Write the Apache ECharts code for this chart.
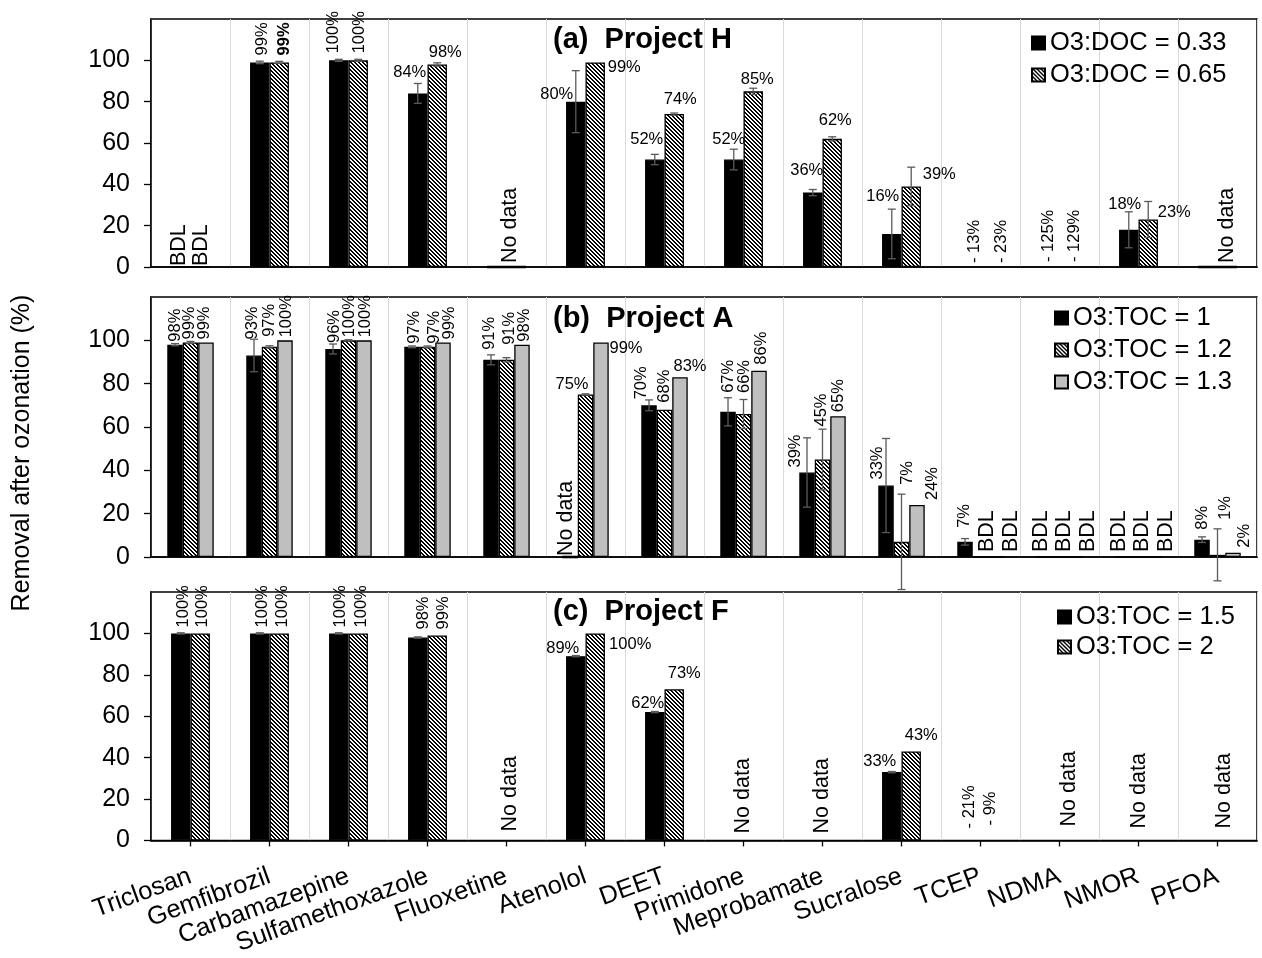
<!DOCTYPE html>
<html>
<head>
<meta charset="utf-8">
<title>Removal after ozonation</title>
<script src="https://cdn.jsdelivr.net/npm/echarts@6/dist/echarts.min.js"></script>
<style>
  html, body { margin: 0; padding: 0; background: #fff; }
  #chart { width: 1262px; height: 958px; }
</style>
</head>
<body>
<div id="chart"></div>
<script>
// ---------------------------------------------------------------- data
const categories = ['Triclosan', 'Gemfibrozil', 'Carbamazepine', 'Sulfamethoxazole', 'Fluoxetine',
  'Atenolol', 'DEET', 'Primidone', 'Meprobamate', 'Sucralose', 'TCEP', 'NDMA', 'NMOR', 'PFOA'];
const yTicks = [0, 20, 40, 60, 80, 100];
const yAxisTitle = 'Removal after ozonation (%)';

// (a) Project H  ('BDL' = below detection limit, null = not measured)
const hNames = ['O3:DOC = 0.33', 'O3:DOC = 0.65'];
const hDoc033 = ['BDL', 99, 100, 84, null, 80, 52, 52, 36, 16, -13, -125, 18, null];
const hDoc065 = ['BDL', 99, 100, 98, null, 99, 74, 85, 62, 39, -23, -129, 23, null];
const hDoc033Err = [null, 0.6, 0.5, 4.8, null, 15, 2.5, 5, 1.5, 12, null, null, 8.7, null];
const hDoc065Err = [null, 0.5, 0.5, 0.8, null, null, 0.5, 1.5, 1, 9.3, null, null, 8.7, null];
const hNotes = [null, null, null, null, 'No data', null, null, null, null, null, null, null, null, 'No data'];

// (b) Project A
const aNames = ['O3:TOC = 1', 'O3:TOC = 1.2', 'O3:TOC = 1.3'];
const aToc10 = [98, 93, 96, 97, 91, null, 70, 67, 39, 33, 7, 'BDL', 'BDL', 8];
const aToc12 = [99, 97, 100, 97, 91, 75, 68, 66, 45, 7, 'BDL', 'BDL', 'BDL', 1];
const aToc13 = [99, 100, 100, 99, 98, 99, 83, 86, 65, 24, 'BDL', 'BDL', 'BDL', 2];
const aToc10Err = [0.5, 7.5, 2.3, 0.4, 2.3, null, 2.5, 6.5, 16, 21.7, 1.5, null, null, 1.3];
const aToc12Err = [0.5, 0.5, 0.3, 0.4, 1, 0.3, null, 6.7, 14, 22, null, null, null, 12];
const aToc13Err = [null, null, null, null, null, null, null, null, null, null, null, null, null, null];
const aNotes = [null, null, null, null, null, 'No data', null, null, null, null, null, null, null, null];

// (c) Project F
const fNames = ['O3:TOC = 1.5', 'O3:TOC = 2'];
const fToc15 = [100, 100, 100, 98, null, 89, 62, null, null, 33, -21, null, null, null];
const fToc20 = [100, 100, 100, 99, null, 100, 73, null, null, 43, -9, null, null, null];
const fToc15Err = [0.3, 0.3, 0.3, 0.3, null, 0.3, 0.3, null, null, 0.3, null, null, null, null];
const fToc20Err = [null, null, null, null, null, null, null, null, null, null, null, null, null, null];
const fNotes = [null, null, null, null, 'No data', null, null, 'No data', 'No data', null, null, 'No data', 'No data', 'No data'];

// ---------------------------------------------------------------- styling
const FONT = '"Liberation Sans", Arial, Helvetica, sans-serif';
const VALUE_FONT = 16.5;
const NOTE_FONT = 21.5;

// Diagonal hatch (top-left to bottom-right) used for the second ozone dose.
function makeHatch() {
  const s = 4;
  const c = document.createElement('canvas');
  c.width = s; c.height = s;
  const ctx = c.getContext('2d');
  ctx.fillStyle = '#fff';
  ctx.fillRect(0, 0, s, s);
  ctx.fillStyle = '#000';
  for (let y = 0; y < s; y++) {
    for (let d = 0; d < 2; d++) ctx.fillRect((y + d) % s, y, 1, 1);
  }
  return c;
}
const FILLS = {
  solid: '#000',
  hatch: { image: makeHatch(), repeat: 'repeat' },
  grey: '#bfbfbf'
};

// Label placement per bar, keyed "series:category".
// 'v' = vertical text starting at (dx, dy) from the bar top centre,
// 'h' = horizontal text centred at (dx, dy) from the bar top centre.
const layoutA = {
  '0:0': ['v', -2, -1], '1:0': ['v', 1, -1],
  '0:1': ['v', 3, -7], '1:1': ['v', 5, -7, true],
  '0:2': ['v', -5, -7], '1:2': ['v', 1, -7],
  '0:3': ['h', -8, -21], '1:3': ['h', 8, -12],
  '0:5': ['h', -19, -7.5], '1:5': ['h', 29, 5],
  '0:6': ['h', -8, -20], '1:6': ['h', 6, -15],
  '0:7': ['h', -5, -20], '1:7': ['h', 4, -12],
  '0:8': ['h', -6, -22], '1:8': ['h', 3, -18],
  '0:9': ['h', -9, -37], '1:9': ['h', 28, -12],
  '0:10': ['v', 4, -4], '1:10': ['v', 11, -4],
  '0:11': ['v', -1, -5], '1:11': ['v', 5, -5],
  '0:12': ['h', -4, -25], '1:12': ['h', 26, -7.5]
};
const layoutB = {
  '0:0': ['v', 0, -3], '1:0': ['v', -1.5, -3], '2:0': ['v', -2, -3],
  '0:1': ['v', -1.5, -16], '1:1': ['v', -0.5, -10], '2:1': ['v', 1, -3],
  '0:2': ['v', 1, -6], '1:2': ['v', 1, -3], '2:2': ['v', 1.5, -3],
  '0:3': ['v', 2, -3], '1:3': ['v', 6.5, -3], '2:3': ['v', 6, -3],
  '0:4': ['v', -2, -10], '1:4': ['v', 2.5, -15], '2:4': ['v', 2, -3],
  '1:5': ['h', -13.5, -10], '2:5': ['h', 25, 6],
  '0:6': ['v', -7.5, -6], '1:6': ['v', 0, -7], '2:6': ['h', 10, -11],
  '0:7': ['v', 0, -19], '1:7': ['v', 1, -21], '2:7': ['v', 2.5, -6],
  '0:8': ['v', -12, -5], '1:8': ['v', -1, -33], '2:8': ['v', 0, -4],
  '0:9': ['v', -8.5, -6], '1:9': ['v', 5.5, -57], '2:9': ['v', 15.5, -5],
  '0:10': ['v', -1, -14], '1:10': ['v', 7, -5], '2:10': ['v', 15, -5],
  '0:11': ['v', -3, -5], '1:11': ['v', 4.5, -5], '2:11': ['v', 13, -5],
  '0:12': ['v', -4, -5], '1:12': ['v', 4, -5], '2:12': ['v', 12, -5],
  '0:13': ['v', 0, -10], '1:13': ['v', 7.5, -35], '2:13': ['v', 11, -5]
};
const layoutC = {
  '0:0': ['v', 3, -6], '1:0': ['v', 2, -6],
  '0:1': ['v', 3, -6], '1:1': ['v', 3, -6],
  '0:2': ['v', 2, -6], '1:2': ['v', 3, -6],
  '0:3': ['v', 6, -8], '1:3': ['v', 6, -6],
  '0:5': ['h', -13, -7.5], '1:5': ['h', 35, 11],
  '0:6': ['h', -7, -9], '1:6': ['h', 10, -16],
  '0:9': ['h', -12, -11], '1:9': ['h', 10, -16],
  '0:10': ['v', -1, -12], '1:10': ['v', 0, -15]
};
// "No data" notes: offset from category centre, optional baseline stub [first bar, bar count]
const notesA = { 4: { dx: 3.5, dy: -4, stub: [0, 2] }, 13: { dx: 9.5, dy: -4, stub: [0, 2] } };
const notesB = { 5: { dx: -19, dy: -1, stub: [0, 1] } };
const notesC = { 4: { dx: 3.5, dy: -9 }, 7: { dx: 0, dy: -7 }, 8: { dx: 0, dy: -7 },
  11: { dx: 10, dy: -14 }, 12: { dx: 1, dy: -12 }, 13: { dx: 7, dy: -12 } };

const panels = [
  {
    title: '(a)  Project H', titleTop: 25, top: 19, height: 248, yMin: 0, barPct: 24.6,
    series: [
      { name: hNames[0], values: hDoc033, errors: hDoc033Err, fill: 'solid' },
      { name: hNames[1], values: hDoc065, errors: hDoc065Err, fill: 'hatch' }
    ],
    notes: hNotes, noteLayout: notesA, labelLayout: layoutA,
    legend: { left: 1031, top: 30, gap: 6 }
  },
  {
    title: '(b)  Project A', titleTop: 304, top: 297, height: 260, yMin: 0, barPct: 19.6,
    series: [
      { name: aNames[0], values: aToc10, errors: aToc10Err, fill: 'solid' },
      { name: aNames[1], values: aToc12, errors: aToc12Err, fill: 'hatch' },
      { name: aNames[2], values: aToc13, errors: aToc13Err, fill: 'grey' }
    ],
    notes: aNotes, noteLayout: notesB, labelLayout: layoutB,
    legend: { left: 1054, top: 305, gap: 6 }
  },
  {
    title: '(c)  Project F', titleTop: 597, top: 592, height: 250, yMin: 0, barPct: 24.6,
    series: [
      { name: fNames[0], values: fToc15, errors: fToc15Err, fill: 'solid' },
      { name: fNames[1], values: fToc20, errors: fToc20Err, fill: 'hatch' }
    ],
    notes: fNotes, noteLayout: notesC, labelLayout: layoutC,
    legend: { left: 1057, top: 604, gap: 4 }, showCategories: true
  }
];

// ---------------------------------------------------------------- helpers
const barValue = v => (typeof v === 'number' ? v : (v === 'BDL' ? 0 : null));
const labelText = v => (typeof v === 'number' ? (v < 0 ? '- ' + (-v) + '%' : v + '%') : v);

function barCentre(api, p, i, k) {
  const band = api.size([1, 0])[0];
  const bw = band * p.barPct / 100;
  const n = p.series.length;
  return api.coord([i, 0])[0] + (k - (n - 1) / 2) * bw;
}

// ---------------------------------------------------------------- option
const grids = [], xAxes = [], yAxes = [], series = [], legends = [], titles = [];

panels.forEach((p, g) => {
  grids.push({
    left: 151, right: 5, top: p.top, height: p.height,
    show: true, borderColor: '#000', borderWidth: 1.5, backgroundColor: 'transparent'
  });

  xAxes.push({
    gridIndex: g, type: 'category', data: categories,
    axisLine: { show: true, onZero: true, lineStyle: { color: '#000', width: 1.5 } },
    axisTick: { show: !!p.showCategories, alignWithLabel: true, interval: 0, length: 6,
      lineStyle: { color: '#000', width: 1.3 } },
    axisLabel: { show: !!p.showCategories, interval: 0, rotate: 20, margin: 35,
      fontSize: 25.5, fontFamily: FONT, color: '#000' },
    splitLine: { show: true, interval: 0, lineStyle: { color: '#d9d9d9', width: 1 } }
  });

  yAxes.push({
    gridIndex: g, type: 'value', min: p.yMin, max: 120,
    axisLine: { show: true, lineStyle: { color: '#000', width: 1.5 } },
    axisTick: { show: true, length: 7, customValues: yTicks, lineStyle: { color: '#000', width: 1.3 } },
    axisLabel: { customValues: yTicks, fontSize: 25, fontFamily: FONT, color: '#000', margin: 21 },
    splitLine: { show: false }
  });

  titles.push({
    text: p.title, left: 553, top: p.titleTop, padding: 0,
    textStyle: { fontSize: 29, fontWeight: 'bold', fontFamily: FONT, color: '#000' }
  });

  legends.push({
    data: p.series.map(s => s.name), orient: 'vertical', left: p.legend.left, top: p.legend.top,
    itemGap: p.legend.gap, itemWidth: 13, itemHeight: 13, icon: 'rect', selectedMode: false,
    padding: 0, textStyle: { fontSize: 25.5, fontFamily: FONT, color: '#000', lineHeight: 26 }
  });

  // bars
  p.series.forEach(s => {
    series.push({
      type: 'bar', name: s.name, xAxisIndex: g, yAxisIndex: g,
      data: s.values.map(barValue),
      barWidth: p.barPct + '%', barGap: '0%',
      itemStyle: { color: FILLS[s.fill], borderColor: '#000', borderWidth: 1.3 },
      emphasis: { disabled: true }, silent: true, z: 2
    });
  });

  // error bars (may run past the plot frame, as in the source figure)
  const errItems = [];
  p.series.forEach((s, k) => {
    s.errors.forEach((e, i) => {
      const v = s.values[i];
      if (typeof v === 'number' && typeof e === 'number' && e > 0) errItems.push([i, k, v, e]);
    });
  });
  series.push({
    type: 'custom', xAxisIndex: g, yAxisIndex: g, silent: true, z: 3, clip: false,
    data: errItems, encode: { x: 0, y: 2 },
    renderItem(params, api) {
      const i = api.value(0), k = api.value(1), v = api.value(2), e = api.value(3);
      const cx = barCentre(api, p, i, k);
      const yHi = api.coord([i, v + e])[1];
      const yLo = api.coord([i, v - e])[1];
      const st = { stroke: '#5a5a5a', lineWidth: 1.3 };
      return {
        type: 'group', children: [
          { type: 'line', shape: { x1: cx, y1: yHi, x2: cx, y2: yLo }, style: st },
          { type: 'line', shape: { x1: cx - 4, y1: yHi, x2: cx + 4, y2: yHi }, style: st },
          { type: 'line', shape: { x1: cx - 4, y1: yLo, x2: cx + 4, y2: yLo }, style: st }
        ]
      };
    }
  });

  // value labels
  const labelItems = [];
  p.series.forEach((s, k) => {
    s.values.forEach((v, i) => {
      if (v === null) return;
      labelItems.push({ i, k, v });
    });
  });
  series.push({
    type: 'custom', xAxisIndex: g, yAxisIndex: g, silent: true, z: 4,
    data: labelItems.map(d => [d.i, d.k, Math.max(barValue(d.v), 0)]), encode: { x: 0, y: 2 },
    renderItem(params, api) {
      const d = labelItems[params.dataIndex];
      const lay = p.labelLayout[d.k + ':' + d.i] || ['v', 0, -4];
      const cx = barCentre(api, p, d.i, d.k);
      const topY = api.coord([d.i, Math.max(barValue(d.v), 0)])[1];
      const vertical = lay[0] === 'v';
      return {
        type: 'text', x: cx + lay[1], y: topY + lay[2], rotation: vertical ? Math.PI / 2 : 0,
        style: {
          text: labelText(d.v), fill: '#000', fontFamily: FONT,
          fontSize: typeof d.v === 'number' ? VALUE_FONT : NOTE_FONT,
          fontWeight: lay[3] ? 'bold' : 'normal',
          align: vertical ? 'left' : 'center', verticalAlign: 'middle'
        }
      };
    }
  });

  // "No data" notes
  const noteItems = [];
  p.notes.forEach((t, i) => { if (t) noteItems.push({ i, t }); });
  series.push({
    type: 'custom', xAxisIndex: g, yAxisIndex: g, silent: true, z: 4,
    data: noteItems.map(d => [d.i, 0]), encode: { x: 0, y: 1 },
    renderItem(params, api) {
      const d = noteItems[params.dataIndex];
      const lay = p.noteLayout[d.i] || { dx: 0, dy: -6 };
      const base = api.coord([d.i, 0]);
      const children = [{
        type: 'text', x: base[0] + lay.dx, y: base[1] + lay.dy, rotation: Math.PI / 2,
        style: { text: d.t, fill: '#000', fontFamily: FONT, fontSize: NOTE_FONT,
          align: 'left', verticalAlign: 'middle' }
      }];
      if (lay.stub) {
        const bw = api.size([1, 0])[0] * p.barPct / 100;
        const x0 = barCentre(api, p, d.i, lay.stub[0]) - bw / 2;
        children.push({ type: 'line', shape: { x1: x0, y1: base[1], x2: x0 + bw * lay.stub[1], y2: base[1] },
          style: { stroke: '#000', lineWidth: 2.6 } });
      }
      return { type: 'group', children };
    }
  });
});

const option = {
  animation: false,
  backgroundColor: '#fff',
  textStyle: { fontFamily: FONT },
  title: titles,
  legend: legends,
  grid: grids,
  xAxis: xAxes,
  yAxis: yAxes,
  series: series,
  graphic: [{
    type: 'text', x: 22, y: 453, rotation: Math.PI / 2,
    style: { text: yAxisTitle, fontSize: 25, fontFamily: FONT, fill: '#000',
      align: 'center', verticalAlign: 'middle' }
  }]
};

const chart = echarts.init(document.getElementById('chart'), null, { renderer: 'canvas' });
chart.setOption(option);
</script>
</body>
</html>
